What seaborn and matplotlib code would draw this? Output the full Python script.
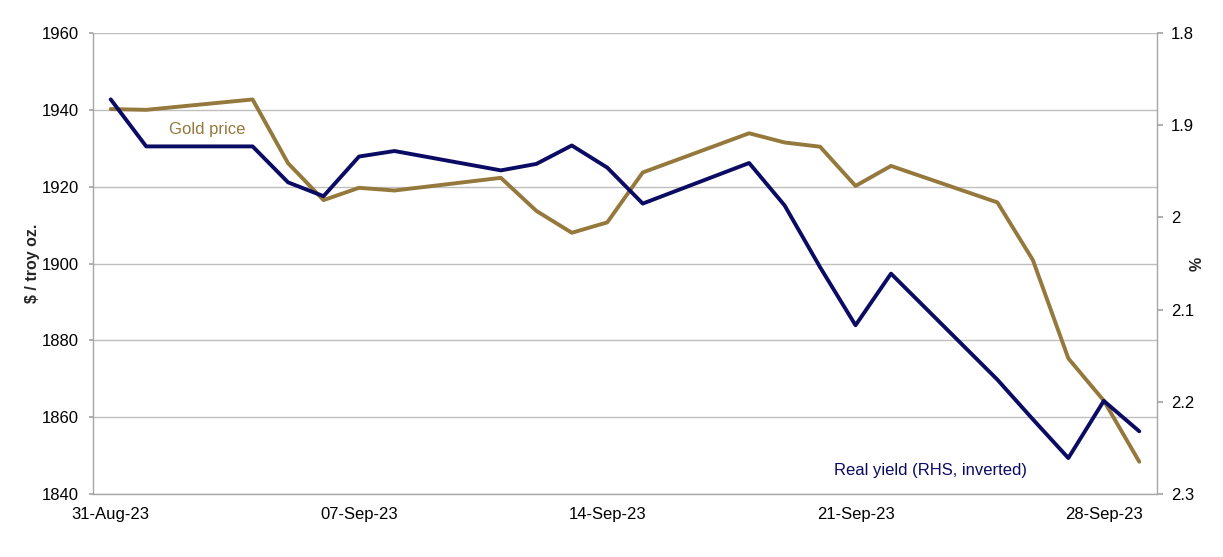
import matplotlib
matplotlib.use("Agg")
import matplotlib.pyplot as plt
import matplotlib.dates as mdates
import matplotlib.ticker as mticker
import seaborn as sns
import pandas as pd

dates = ['2023-08-31', '2023-09-01', '2023-09-04', '2023-09-05', '2023-09-06',
         '2023-09-07', '2023-09-08', '2023-09-11', '2023-09-12', '2023-09-13',
         '2023-09-14', '2023-09-15', '2023-09-18', '2023-09-19', '2023-09-20',
         '2023-09-21', '2023-09-22', '2023-09-25', '2023-09-26', '2023-09-27',
         '2023-09-28', '2023-09-29']
gold_price = [1940.2, 1940.0, 1942.7, 1926.1, 1916.5, 1919.7, 1919.0, 1922.3,
              1913.7, 1908.0, 1910.7, 1923.7, 1933.9, 1931.5, 1930.4, 1920.2,
              1925.4, 1915.9, 1900.9, 1875.3, 1864.3, 1848.4]
real_yield = [1.872, 1.923, 1.923, 1.962, 1.977, 1.934, 1.928, 1.949, 1.942,
              1.922, 1.946, 1.985, 1.941, 1.987, 2.054, 2.117, 2.061, 2.176,
              2.219, 2.261, 2.199, 2.232]
tick_dates = ['2023-08-31', '2023-09-07', '2023-09-14', '2023-09-21', '2023-09-28']
left_ticks = [1840, 1860, 1880, 1900, 1920, 1940, 1960]
right_ticks = [1.8, 1.9, 2.0, 2.1, 2.2, 2.3]

df = pd.DataFrame({"date": pd.to_datetime(dates), "gold": gold_price, "yield": real_yield})

sns.set_theme(style="white")
plt.rcParams['font.family'] = ['Liberation Sans', 'DejaVu Sans']

GOLD = '#94783C'
NAVY = '#0B0B64'
GRID = '#BFBFBF'
SPINE = '#A6A6A6'
FS = 12

fig = plt.figure(figsize=(12.23, 5.57), dpi=100)
ax = fig.add_axes([93/1223, 1-494/557, (1157-93)/1223, (494-33)/557])

sns.lineplot(data=df, x="date", y="gold", ax=ax, color=GOLD, linewidth=2.8)
ax.set_ylim(1840, 1960)
ax.set_yticks(left_ticks)
ax.yaxis.grid(True, color=GRID, linewidth=1.0)
ax.xaxis.grid(False)
ax.set_xlim(pd.Timestamp('2023-08-31') - pd.Timedelta(hours=12),
            pd.Timestamp('2023-09-29') + pd.Timedelta(hours=12))
ax.set_xticks(pd.to_datetime(tick_dates))
ax.xaxis.set_major_formatter(mdates.DateFormatter('%d-%b-%y'))
ax.set_xlabel("")
ax.set_ylabel("$ / troy oz.", fontsize=11.5, fontweight='bold', labelpad=1)
ax.tick_params(axis='both', labelsize=FS, colors='black')
ax.tick_params(axis='y', length=3, color=SPINE, pad=7)
ax.tick_params(axis='x', length=0, pad=9)

for s in ['top', 'right']:
    ax.spines[s].set_visible(False)
for s in ['left', 'bottom']:
    ax.spines[s].set_color(SPINE)
    ax.spines[s].set_linewidth(1.0)

ax2 = ax.twinx()
sns.lineplot(data=df, x="date", y="yield", ax=ax2, color=NAVY, linewidth=2.8)
ax2.set_ylim(2.3, 1.8)
ax2.set_yticks(right_ticks)
ax2.yaxis.set_major_formatter(mticker.FormatStrFormatter('%g'))
ax2.set_ylabel("%", fontsize=11.5, fontweight='bold', labelpad=-3, rotation=90)
ax2.tick_params(axis='y', labelsize=FS, colors='black', length=4, color=SPINE, pad=6)
ax2.grid(False)
for s in ['top', 'left', 'bottom']:
    ax2.spines[s].set_visible(False)
ax2.spines['right'].set_color(SPINE)
ax2.spines['right'].set_linewidth(1.0)

ax.text(0.107, 0.79, "Gold price", transform=ax.transAxes, color=GOLD,
        fontsize=FS, ha='center', va='center')
ax.text(0.787, 0.05, "Real yield (RHS, inverted)", transform=ax.transAxes, color=NAVY,
        fontsize=FS, ha='center', va='center')

fig.savefig("out.png", dpi=100)
